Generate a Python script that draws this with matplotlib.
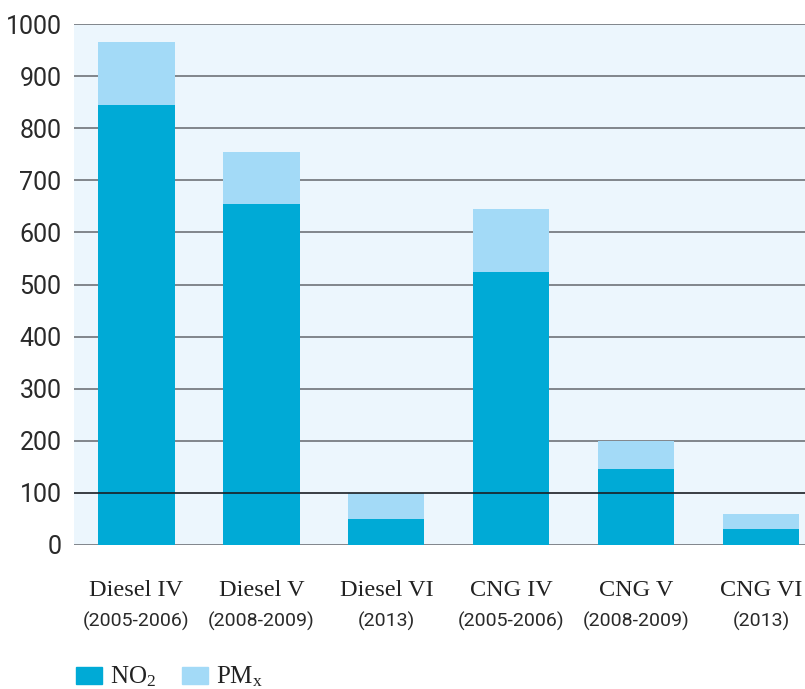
import matplotlib
matplotlib.use('Agg')
import matplotlib.pyplot as plt
import matplotlib.patches as mpatches

# data
categories = ['Diesel IV', 'Diesel V', 'Diesel VI', 'CNG IV', 'CNG V', 'CNG VI']
periods = ['(2005-2006)', '(2008-2009)', '(2013)', '(2005-2006)', '(2008-2009)', '(2013)']
no2 = [845, 655, 50, 525, 145, 30]
pmx = [120, 100, 50, 120, 55, 30]
yticks = [0, 100, 200, 300, 400, 500, 600, 700, 800, 900, 1000]

c_no2 = '#00AAD6'
c_pm = '#A3DAF7'
bg = '#ECF6FD'
grid_c = '#6E7378'

fig = plt.figure(figsize=(8.05, 6.89), dpi=100)
ax = fig.add_axes([0.0919, 0.209, 0.908, 0.756])
ax.set_facecolor(bg)

x = list(range(len(categories)))
ax.bar(x, no2, width=0.61, color=c_no2, zorder=2)
ax.bar(x, pmx, width=0.61, bottom=no2, color=c_pm, zorder=2)

# horizontal grid lines (the one at 100 sits on top of the bars)
for t in yticks:
    if t == 100:
        ax.axhline(t, color='#1a1f24', lw=1.2, zorder=3)
    else:
        ax.axhline(t, color=grid_c, lw=1.2, zorder=1)

ax.set_xlim(-0.5, 5.35)
ax.set_ylim(0, 1000)
ax.set_yticks(yticks)
ax.set_yticklabels([str(t) for t in yticks], fontsize=18, family='Roboto',
                   color='#2a2a2a')
ax.tick_params(axis='y', length=0, pad=9)
ax.tick_params(axis='x', bottom=False, labelbottom=False)
for s in ax.spines.values():
    s.set_visible(False)

tr = ax.get_xaxis_transform()
for i, (c, p) in enumerate(zip(categories, periods)):
    ax.text(i, -0.087, c, transform=tr, ha='center', va='center',
            fontsize=17.5, family='Liberation Serif', color='#222222')
    ax.text(i, -0.146, p, transform=tr, ha='center', va='center',
            fontsize=14, family='Roboto', color='#2a2a2a')

# legend at the bottom (partly cut off, as in the reference)
legend_items = [(c_no2, r'$\mathregular{NO_2}$', 76, 110),
                (c_pm, r'$\mathregular{PM_x}$', 182, 216)]
for col, lab, px, tx in legend_items:
    fig.patches.append(mpatches.Rectangle((px / 805, 5 / 689), 26 / 805, 17 / 689,
                                          transform=fig.transFigure, color=col))
    fig.text(tx / 805, 12 / 689, lab, ha='left', va='center', fontsize=18,
             family='Liberation Serif', color='#222222')

fig.savefig('out.png', dpi=100)
